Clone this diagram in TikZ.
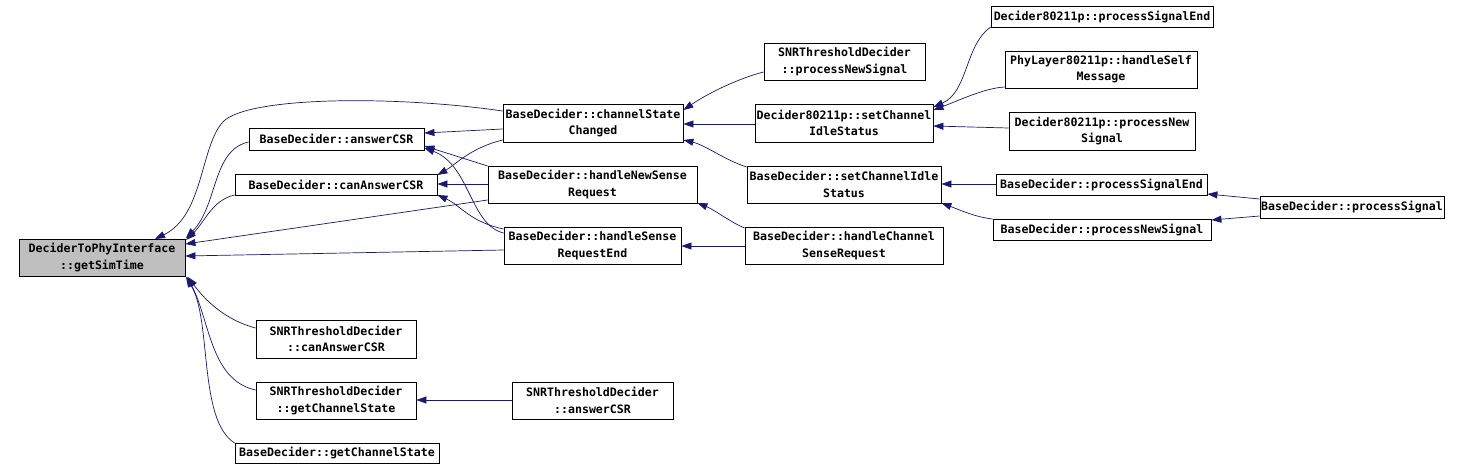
\documentclass[tikz,border=0pt]{standalone}
\usepackage{fontspec}
\newfontfamily\dmono{DejaVu Sans Mono}
\usetikzlibrary{arrows.meta}
\definecolor{edgeblue}{HTML}{191970}
\definecolor{simgray}{HTML}{BFBFBF}
\begin{document}
\begin{tikzpicture}[x=1pt,y=-1pt,
  fn/.style={draw=black,line width=0.8pt,rectangle,inner sep=0pt,align=center,
    font=\dmono\bfseries\fontsize{11.6}{16.5}\selectfont},
  edge/.style={draw=edgeblue,line width=0.7pt,-{Triangle[length=10pt,width=7pt]}},
]
\useasboundingbox[fill=white] (0,0) rectangle (1460,471);

\node[fn,minimum width=166pt,minimum height=37pt,fill=simgray] (sim) at (102,257.5) {DeciderToPhyInterface\\::getSimTime};
\node[fn,minimum width=175pt,minimum height=22pt] (ans) at (336.5,139) {BaseDecider::answerCSR};
\node[fn,minimum width=202pt,minimum height=21pt] (can) at (336,184.5) {BaseDecider::canAnswerCSR};
\node[fn,minimum width=180pt,minimum height=38pt] (csc) at (593,123) {BaseDecider::channelState\\Changed};
\node[fn,minimum width=209pt,minimum height=37pt] (hnsr) at (592.5,184.5) {BaseDecider::handleNewSense\\Request};
\node[fn,minimum width=177pt,minimum height=37pt] (hsre) at (592.5,245.5) {BaseDecider::handleSense\\RequestEnd};
\node[fn,minimum width=161pt,minimum height=37pt] (snrpns) at (844.5,61.5) {SNRThresholdDecider\\::processNewSignal};
\node[fn,minimum width=178pt,minimum height=38pt] (dscis) at (844,123) {Decider80211p::setChannel\\IdleStatus};
\node[fn,minimum width=194pt,minimum height=37pt] (bscis) at (844,184.5) {BaseDecider::setChannelIdle\\Status};
\node[fn,minimum width=198pt,minimum height=37pt] (hcsr) at (844,245.5) {BaseDecider::handleChannel\\SenseRequest};
\node[fn,minimum width=222pt,minimum height=21pt] (dpse) at (1102,16.5) {Decider80211p::processSignalEnd};
\node[fn,minimum width=192pt,minimum height=37pt] (phsm) at (1101,69.5) {PhyLayer80211p::handleSelf\\Message};
\node[fn,minimum width=186pt,minimum height=38pt] (dpns) at (1102,131) {Decider80211p::processNew\\Signal};
\node[fn,minimum width=211pt,minimum height=21pt] (bpse) at (1101.5,184.5) {BaseDecider::processSignalEnd};
\node[fn,minimum width=218pt,minimum height=21pt] (bpns) at (1102,229.5) {BaseDecider::processNewSignal};
\node[fn,minimum width=184pt,minimum height=22pt] (bps) at (1352,207) {BaseDecider::processSignal};
\node[fn,minimum width=160pt,minimum height=38pt] (snrcan) at (336,339) {SNRThresholdDecider\\::canAnswerCSR};
\node[fn,minimum width=160pt,minimum height=37pt] (snrgcs) at (336,400.5) {SNRThresholdDecider\\::getChannelState};
\node[fn,minimum width=161pt,minimum height=37pt] (snrans) at (592.5,400.5) {SNRThresholdDecider\\::answerCSR};
\node[fn,minimum width=204pt,minimum height=20pt] (bgcs) at (337,453) {BaseDecider::getChannelState};

% callers of getSimTime
\draw[edge] (csc.west |- 0,111) .. controls (400,96) and (255,96) .. (225,120) .. controls (200,142) and (205,215) .. (155,239);
\draw[edge] (ans.west |- 0,142) .. controls (212,150) and (218,205) .. (186,238);
\draw[edge] (can.west |- 0,195) .. controls (212,200) and (205,222) .. (186,240);
\draw[edge] (hnsr.west |- 0,200) -- (sim.east |- 0,244);
\draw[edge] (hsre.west |- 0,250) -- (sim.east |- 0,256);
\draw[edge] (snrcan.west |- 0,328) .. controls (225,320) and (205,300) .. (188,277);
\draw[edge] (snrgcs.west |- 0,390) .. controls (210,380) and (210,320) .. (187,277);
\draw[edge] (bgcs.west |- 0,443) .. controls (198,420) and (212,320) .. (186,277);

% callers of answerCSR / canAnswerCSR
\draw[edge] (csc.west |- 0,129) -- (ans.east |- 0,133);
\draw[edge] (hnsr.west |- 0,166) -- (ans.east |- 0,146);
\draw[edge] (hsre.west |- 0,233) .. controls (470,225) and (470,165) .. (ans.east |- 0,148);
\draw[edge] (csc.west |- 0,140) .. controls (470,148) and (455,165) .. (can.east |- 0,175);
\draw[edge] (hnsr.west |- 0,184) -- (can.east |- 0,184);
\draw[edge] (hsre.west |- 0,229) .. controls (470,222) and (460,205) .. (can.east |- 0,195);

% callers of channelStateChanged etc.
\draw[edge] (snrpns.west |- 0,72) .. controls (740,78) and (710,92) .. (csc.east |- 0,110);
\draw[edge] (dscis.west |- 0,124) -- (csc.east |- 0,124);
\draw[edge] (bscis.west |- 0,167) .. controls (725,160) and (705,145) .. (csc.east |- 0,140);
\draw[edge] (hcsr.west |- 0,228) .. controls (730,222) and (715,210) .. (hnsr.east |- 0,203);
\draw[edge] (hcsr.west |- 0,246) -- (hsre.east |- 0,246);

% callers of setChannelIdleStatus
\draw[edge] (dpse.west |- 0,27) .. controls (965,45) and (968,92) .. (dscis.east |- 0,107);
\draw[edge] (phsm.west |- 0,87) .. controls (985,88) and (960,100) .. (dscis.east |- 0,110);
\draw[edge] (dpns.west |- 0,128) -- (dscis.east |- 0,126);
\draw[edge] (bpse.west |- 0,184) -- (bscis.east |- 0,184);
\draw[edge] (bpns.west |- 0,219) .. controls (975,217) and (960,210) .. (bscis.east |- 0,203);

% processSignal
\draw[edge] (bps.west |- 0,199) -- (bpse.east |- 0,194);
\draw[edge] (bps.west |- 0,216) -- (bpns.east |- 0,220);

% SNR answerCSR
\draw[edge] (snrans.west |- 0,400) -- (snrgcs.east |- 0,400);
\end{tikzpicture}
\end{document}
